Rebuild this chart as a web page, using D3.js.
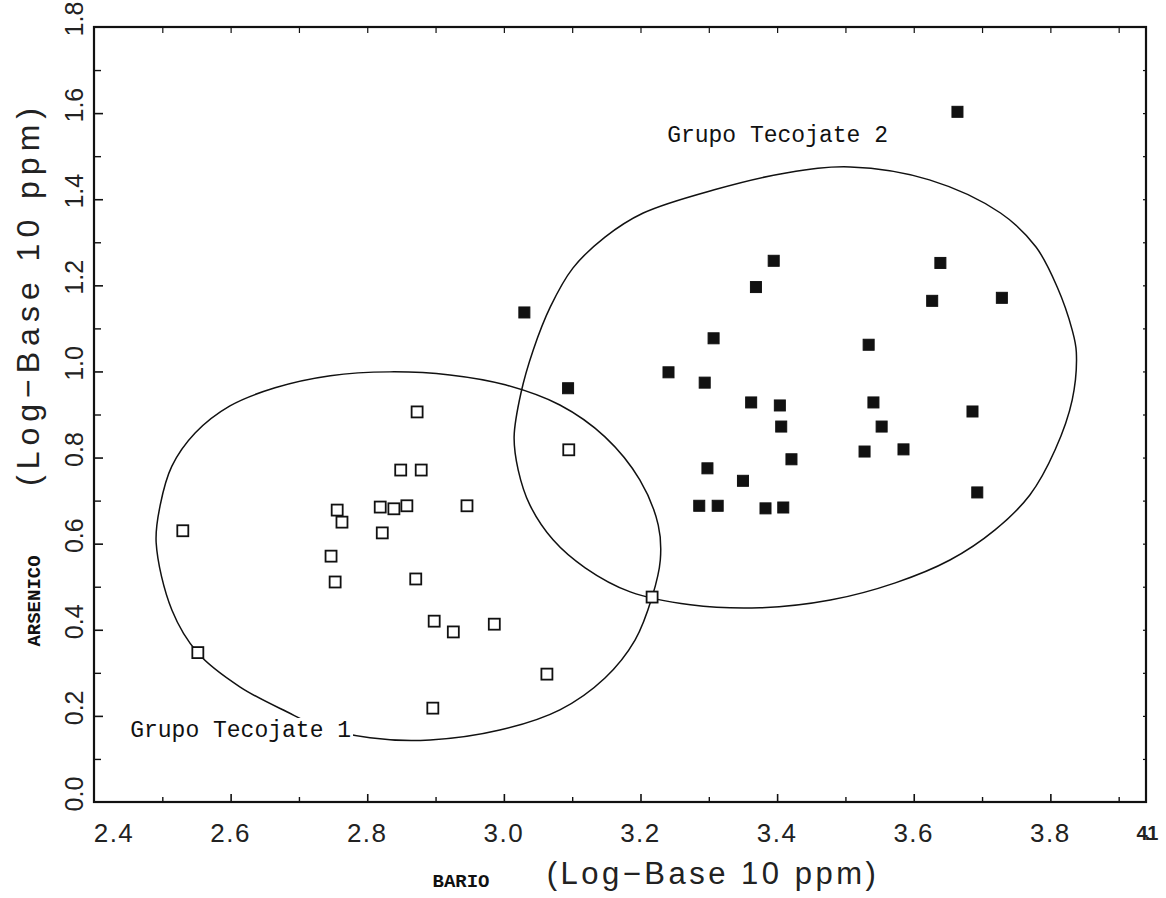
<!DOCTYPE html>
<html>
<head>
<meta charset="utf-8">
<script src="https://cdn.jsdelivr.net/npm/d3@7"></script>
<style>
  body { margin: 0; background: #fff; }
  svg { display: block; background: #fff; }
</style>
</head>
<body>
<svg id="chart" width="1166" height="898"></svg>
<script>
// Grupo Tecojate 1 (open squares) - log10 ppm
const bario1 = [2.530, 2.552, 2.747, 2.753, 2.756, 2.763, 2.819, 2.839, 2.858, 2.822, 2.849,
    2.879, 2.873, 2.871, 2.898, 2.926, 2.986, 2.946, 2.896, 3.063, 3.095, 3.217];
const arsenico1 = [0.630, 0.347, 0.571, 0.511, 0.678, 0.650, 0.685, 0.681, 0.688, 0.625, 0.771,
    0.771, 0.906, 0.518, 0.420, 0.395, 0.413, 0.688, 0.218, 0.297, 0.818, 0.476];

// Grupo Tecojate 2 (filled squares)
const bario2 = [3.664, 3.395, 3.639, 3.369, 3.627, 3.729, 3.030, 3.307, 3.534, 3.241, 3.294,
    3.094, 3.362, 3.541, 3.404, 3.686, 3.406, 3.553, 3.528, 3.585, 3.421, 3.298, 3.350, 3.693,
    3.286, 3.313, 3.383, 3.409];
const arsenico2 = [1.603, 1.257, 1.252, 1.196, 1.164, 1.171, 1.137, 1.077, 1.062, 0.998, 0.974,
    0.961, 0.928, 0.928, 0.921, 0.907, 0.872, 0.872, 0.814, 0.819, 0.796, 0.775, 0.746, 0.719,
    0.688, 0.688, 0.682, 0.684];

// hand drawn outlines round the groups
const outline1Ba = [2.491, 2.497, 2.514, 2.548, 2.599, 2.665, 2.746, 2.833, 2.921, 3.002, 3.082,
    3.148, 3.199, 3.226, 3.229, 3.217, 3.192, 3.148, 3.082, 2.994, 2.892, 2.804, 2.724, 2.683,
    2.614, 2.552, 2.514];
const outline1As = [0.602, 0.690, 0.780, 0.857, 0.920, 0.962, 0.990, 0.999, 0.992, 0.969, 0.922,
    0.848, 0.748, 0.643, 0.562, 0.476, 0.376, 0.288, 0.214, 0.167, 0.144, 0.149, 0.179, 0.209,
    0.267, 0.346, 0.446];
const outline2Ba = [3.015, 3.025, 3.043, 3.068, 3.101, 3.148, 3.204, 3.308, 3.413, 3.507, 3.623,
    3.727, 3.779, 3.810, 3.832, 3.838, 3.832, 3.807, 3.770, 3.719, 3.653, 3.573, 3.478, 3.375,
    3.273, 3.185, 3.119, 3.072, 3.038, 3.021];
const outline2As = [0.848, 0.950, 1.050, 1.150, 1.240, 1.312, 1.368, 1.422, 1.461, 1.475, 1.445,
    1.368, 1.289, 1.196, 1.096, 1.045, 0.934, 0.818, 0.713, 0.632, 0.562, 0.509, 0.469, 0.451,
    0.458, 0.488, 0.544, 0.609, 0.690, 0.771];

const groupLabels = ["Grupo Tecojate 1", "Grupo Tecojate 2"];
const groupLabelBa = [2.453, 3.239];
const groupLabelAs = [0.151, 1.533];

const xTicks = [2.4, 2.6, 2.8, 3.0, 3.2, 3.4, 3.6, 3.8];
const xTickLabels = ["2.4", "2.6", "2.8", "3.0", "3.2", "3.4", "3.6", "3.8"];
const xEndLabel = "4.1";
const yTicks = [0, 0.2, 0.4, 0.6, 0.8, 1.0, 1.2, 1.4, 1.6, 1.8];
const yTickLabels = ["0.0", "0.2", "0.4", "0.6", "0.8", "1.0", "1.2", "1.4", "1.6", "1.8"];

const svg = d3.select("#chart");
const tickFont = "'Liberation Sans', Arial, sans-serif";
const monoFont = "'Liberation Mono', 'Courier New', monospace";

const x = d3.scaleLinear().domain([2.4, 3.94]).range([94, 1146]);
const y = d3.scaleLinear().domain([0, 1.8]).range([802, 27]);

const xMinor = d3.range(25, 40).map(d => d / 10).filter(d => d < 3.94);
const yMinor = d3.range(1, 18).map(d => d / 10);

// ticks, all pointing into the frame
function ticks(axis, transform, values, size, width) {
    const g = svg.append("g")
        .attr("transform", transform)
        .call(axis.tickValues(values).tickSizeInner(-size).tickSizeOuter(0).tickFormat(""));
    g.select(".domain").remove();
    g.selectAll("line").attr("stroke", "#111").attr("stroke-width", width);
}

const isMajor = d => Math.abs(Math.round(d * 10) % 2) === 0;
ticks(d3.axisBottom(x), "translate(0,802)", xMinor.filter(d => !isMajor(d)), 5, 1.4);
ticks(d3.axisBottom(x), "translate(0,802)", xMinor.filter(isMajor), 8, 1.6);
ticks(d3.axisLeft(y), "translate(94,0)", yMinor.filter(d => !isMajor(d)), 7, 1.4);
ticks(d3.axisLeft(y), "translate(94,0)", yMinor.filter(isMajor), 9, 1.6);
ticks(d3.axisTop(x), "translate(0,27)", xMinor, 6, 1.2);
ticks(d3.axisRight(y), "translate(1146,0)", yMinor, 3, 1.2);

// frame
svg.append("rect")
    .attr("x", x(2.4))
    .attr("y", y(1.8))
    .attr("width", x(3.94) - x(2.4))
    .attr("height", y(0) - y(1.8))
    .attr("fill", "none")
    .attr("stroke", "#111")
    .attr("stroke-width", 2.2);

// outlines
const outline = d3.line()
    .x(d => x(d[0]))
    .y(d => y(d[1]))
    .curve(d3.curveCatmullRomClosed.alpha(0.5));

[[outline1Ba, outline1As], [outline2Ba, outline2As]].forEach(([ba, as]) => {
    svg.append("path")
        .attr("d", outline(ba.map((b, i) => [b, as[i]])))
        .attr("fill", "none")
        .attr("stroke", "#111")
        .attr("stroke-width", 1.5);
});

// group labels (white box breaks the outline under label 1)
groupLabels.forEach((t, i) => {
    const lbl = svg.append("text")
        .attr("x", x(groupLabelBa[i]))
        .attr("y", y(groupLabelAs[i]))
        .attr("font-family", monoFont)
        .attr("font-size", 23)
        .attr("fill", "#111")
        .text(t);
    const bb = lbl.node().getBBox();
    svg.insert("rect", () => lbl.node())
        .attr("x", bb.x - 2)
        .attr("y", bb.y)
        .attr("width", bb.width + 4)
        .attr("height", bb.height)
        .attr("fill", "#fff");
});

// points
const s = 11;
svg.append("g")
    .selectAll("rect")
    .data(bario1.map((b, i) => [b, arsenico1[i]]))
    .join("rect")
    .attr("x", d => x(d[0]) - s / 2)
    .attr("y", d => y(d[1]) - s / 2)
    .attr("width", s)
    .attr("height", s)
    .attr("fill", "#fff")
    .attr("stroke", "#111")
    .attr("stroke-width", 1.8);

svg.append("g")
    .selectAll("rect")
    .data(bario2.map((b, i) => [b, arsenico2[i]]))
    .join("rect")
    .attr("x", d => x(d[0]) - s / 2)
    .attr("y", d => y(d[1]) - s / 2)
    .attr("width", s)
    .attr("height", s)
    .attr("fill", "#111")
    .attr("stroke", "#111")
    .attr("stroke-width", 1);

// tick labels
svg.append("g")
    .selectAll("text")
    .data(xTicks)
    .join("text")
    .attr("x", (d, i) => i === 0 ? x(d) + 20 : x(d))
    .attr("y", 842)
    .attr("text-anchor", "middle")
    .attr("font-family", tickFont)
    .attr("font-size", 26)
    .attr("letter-spacing", 1.5)
    .attr("fill", "#222")
    .text((d, i) => xTickLabels[i]);

svg.append("text")
    .attr("x", x(3.94))
    .attr("y", 840)
    .attr("text-anchor", "middle")
    .attr("font-family", tickFont)
    .attr("font-size", 20)
    .attr("font-weight", "bold")
    .attr("letter-spacing", -3)
    .attr("fill", "#222")
    .text(xEndLabel);

svg.append("g")
    .selectAll("text")
    .data(yTicks)
    .join("text")
    .attr("transform", d => `translate(83,${y(d) - 8}) rotate(-90)`)
    .attr("text-anchor", "middle")
    .attr("font-family", tickFont)
    .attr("font-size", 25)
    .attr("fill", "#222")
    .text((d, i) => yTickLabels[i]);

// axis titles
svg.append("text")
    .attr("x", 461)
    .attr("y", 887)
    .attr("text-anchor", "middle")
    .attr("font-family", monoFont)
    .attr("font-weight", "bold")
    .attr("font-size", 19)
    .attr("fill", "#111")
    .text("BARIO");

svg.append("text")
    .attr("x", 713)
    .attr("y", 884)
    .attr("text-anchor", "middle")
    .attr("font-family", tickFont)
    .attr("font-size", 31)
    .attr("letter-spacing", 3.5)
    .attr("fill", "#222")
    .text("(Log\u2212Base 10 ppm)");

svg.append("text")
    .attr("transform", "translate(40,601) rotate(-90)")
    .attr("text-anchor", "middle")
    .attr("font-family", monoFont)
    .attr("font-weight", "bold")
    .attr("font-size", 19)
    .attr("fill", "#111")
    .text("ARSENICO");

svg.append("text")
    .attr("transform", "translate(39,294) rotate(-90)")
    .attr("text-anchor", "middle")
    .attr("font-family", tickFont)
    .attr("font-size", 32)
    .attr("letter-spacing", 6)
    .attr("fill", "#222")
    .text("(Log\u2212Base 10 ppm)");
</script>
</body>
</html>
